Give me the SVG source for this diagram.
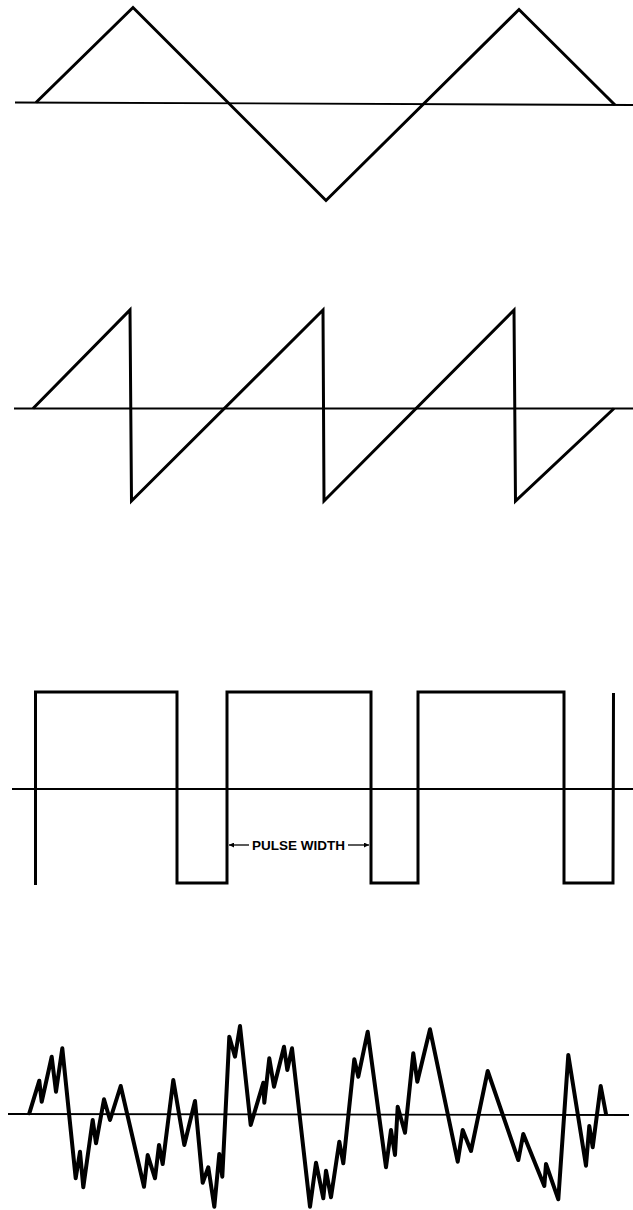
<svg xmlns="http://www.w3.org/2000/svg" width="633" height="1210" viewBox="0 0 633 1210">
<style>
.axis{fill:none;stroke:#000;stroke-width:1.8}
.wave{fill:none;stroke:#000;stroke-width:3;stroke-linejoin:miter;stroke-linecap:butt}
.noise{fill:none;stroke:#000;stroke-width:4;stroke-linejoin:round;stroke-linecap:round}
.dim{fill:none;stroke:#000;stroke-width:1.3}
.lbl{font-family:"Liberation Sans",Arial,sans-serif;font-weight:bold;font-size:13px;fill:#000}
</style>
<defs>
<marker id="ah" viewBox="0 0 10 10" refX="10" refY="5" markerWidth="6" markerHeight="5" orient="auto" markerUnits="userSpaceOnUse">
<path d="M0,0 L10,5 L0,10 z" fill="#000"/>
</marker>
</defs>
<rect width="633" height="1210" fill="#fff"/>
<g id="triangle">
<line class="axis" x1="15" y1="102.5" x2="633" y2="105"/>
<polyline class="wave" points="36,102.5 133,7.5 326,200.5 519,9.5 615,105"/>
</g>
<g id="sawtooth">
<line class="axis" x1="14" y1="408.5" x2="633" y2="408.5"/>
<polyline class="wave" points="33,408.5 130,310 131.5,501 323,310 324,501 514,310 515.5,501 614,408.5"/>
</g>
<g id="pulse">
<line class="axis" x1="12" y1="789" x2="633" y2="789"/>
<polyline class="wave" points="35.5,885 35.5,692 177,692 177,883 227,883 227,692 371,692 371,883 418,883 418,692 564,692 564,883 613,883 613.5,693"/>
<text class="lbl" x="298.5" y="849.8" text-anchor="middle" textLength="93" lengthAdjust="spacingAndGlyphs">PULSE WIDTH</text>
</g>
<g id="connectors">
<line class="dim" x1="249" y1="845" x2="229" y2="845" marker-end="url(#ah)"/>
<line class="dim" x1="348" y1="845" x2="369" y2="845" marker-end="url(#ah)"/>
</g>
<g id="noise">
<line class="axis" x1="8" y1="1114" x2="629" y2="1115"/>
<polyline class="noise" points="29.3,1113.3 39.3,1080.7 41.7,1101.7 51.7,1056.7 56,1091.7 62.3,1048.3 75.7,1178.3 80,1151.7 83.3,1187.3 92.7,1120 96,1143.3 104,1099.3 110,1120 120.7,1086 144,1186.7 147.7,1155 155,1178.3 159,1145 162.7,1164 173.3,1080 184.3,1145 195,1101 202.7,1182.7 208.3,1167.3 214.3,1206.7 219.3,1154 222.3,1176.7 229.3,1036.7 235,1056.7 240,1026 250.7,1125 263.3,1082.7 264.3,1102.7 269.3,1058.3 274,1086.7 284,1046.7 287.3,1070 292,1048.3 310,1206.7 316,1162.7 323.3,1198.3 326,1170.7 331,1197.3 339.3,1141.7 343.3,1163.3 354.3,1059.3 358.3,1076.7 367.7,1031.7 386,1167.3 391,1130 395,1155 397.7,1106.7 405,1132.7 413.3,1053.3 417.3,1081.7 430,1029.3 457.7,1161.7 462.7,1130 471,1151 487.7,1071 518.3,1160 523.3,1134 544.3,1186 546,1164 558.3,1199.3 568.3,1055 586,1165.7 589.3,1126 592.7,1147.3 600.7,1086 606,1114"/>
</g>
</svg>
